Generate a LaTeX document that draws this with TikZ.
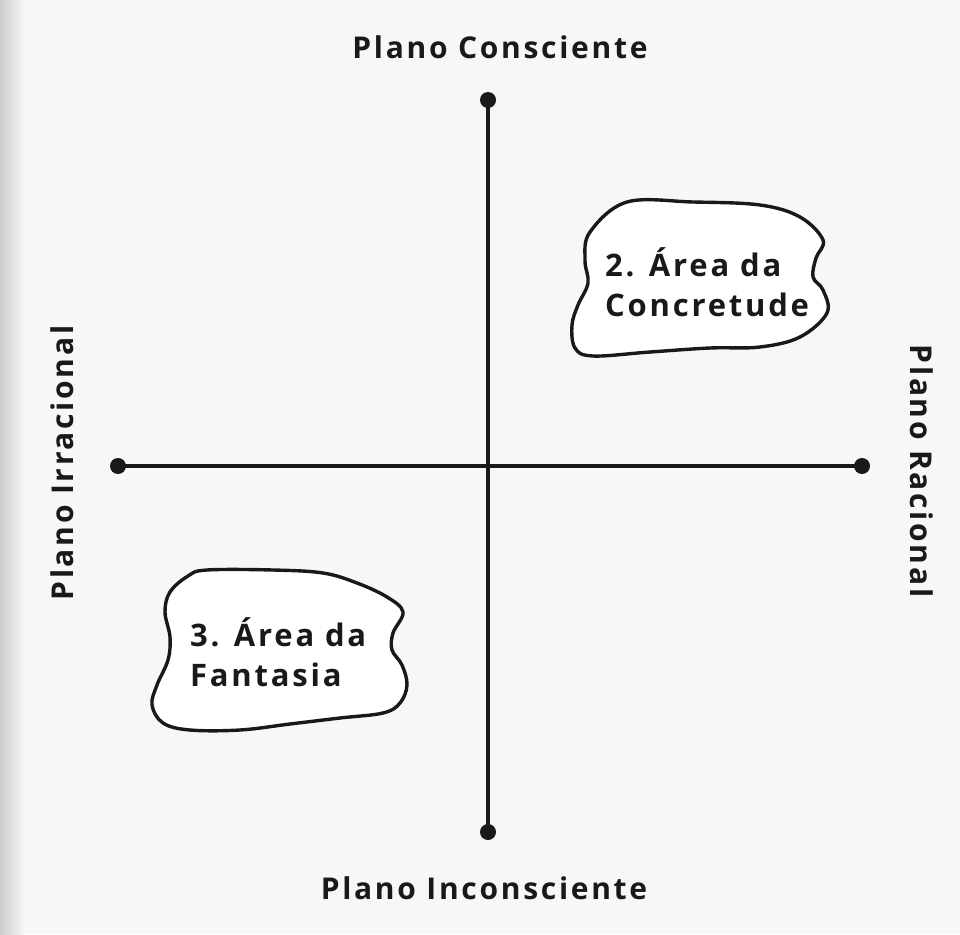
\documentclass[tikz,border=0pt]{standalone}
\usepackage{fontspec}
\setmainfont{Open Sans}[LetterSpace=9]
\begin{document}
\begin{tikzpicture}[x=1pt,y=-1pt,
  dot/.style={circle,fill=black!90,inner sep=0pt,minimum size=16pt},
  axis/.style={line width=3.4pt,draw=black!90},
  blob/.style={line width=3.4pt,draw=black!90,fill=white},
  lbl/.style={font=\fontsize{30}{34}\selectfont\bfseries,text=black!90,inner sep=0pt},
  blbl/.style={font=\fontsize{31}{40}\selectfont\bfseries,text=black!90,align=left,inner sep=0pt}]
\fill[gray!6] (0,0) rectangle (960,934);
\shade[left color=gray!40,right color=gray!6] (0,0) rectangle (25,934);
\useasboundingbox (0,0) rectangle (960,934);
% axes
\node[dot] (top) at (488,100) {};
\node[dot] (bot) at (488,832) {};
\node[dot] (lft) at (118,466) {};
\node[dot] (rgt) at (862,466) {};
\draw[axis] (top.center) -- (bot.center);
\draw[axis] (lft.center) -- (rgt.center);
% labels
\node[lbl] (cons) at (500,47) {Plano Consciente};
\node[lbl] (incons) at (484,888) {Plano Inconsciente};
\node[lbl,rotate=90] (irr) at (62,463) {Plano Irracional};
\node[lbl,rotate=-90] (rac) at (922,471) {Plano Racional};
% blobs
\draw[blob] plot[smooth cycle,tension=0.6] coordinates {
 (627,202) (693,202) (760,205) (800,217) (823,240) (816,258) (813,277)
 (823,290) (827,313) (800,337) (760,347) (710,348) (650,352) (593,356)
 (575,348) (572,325) (578,305) (588,283) (585,260) (590,232)};
\draw[blob] plot[smooth cycle,tension=0.6] coordinates {
 (207,570) (273,570) (323,573) (357,583) (387,597) (403,612) (393,633)
 (392,650) (402,665) (407,685) (400,703) (383,713) (340,718) (290,724)
 (240,730) (190,730) (163,723) (152,705) (157,685) (168,660) (170,637)
 (165,612) (170,592) (188,576)};
\node[blbl,anchor=west] (concr) at (605,282) {2. Área da\\Concretude};
\node[blbl,anchor=west] (fant) at (190,652) {3. Área da\\Fantasia};
\end{tikzpicture}
\end{document}
